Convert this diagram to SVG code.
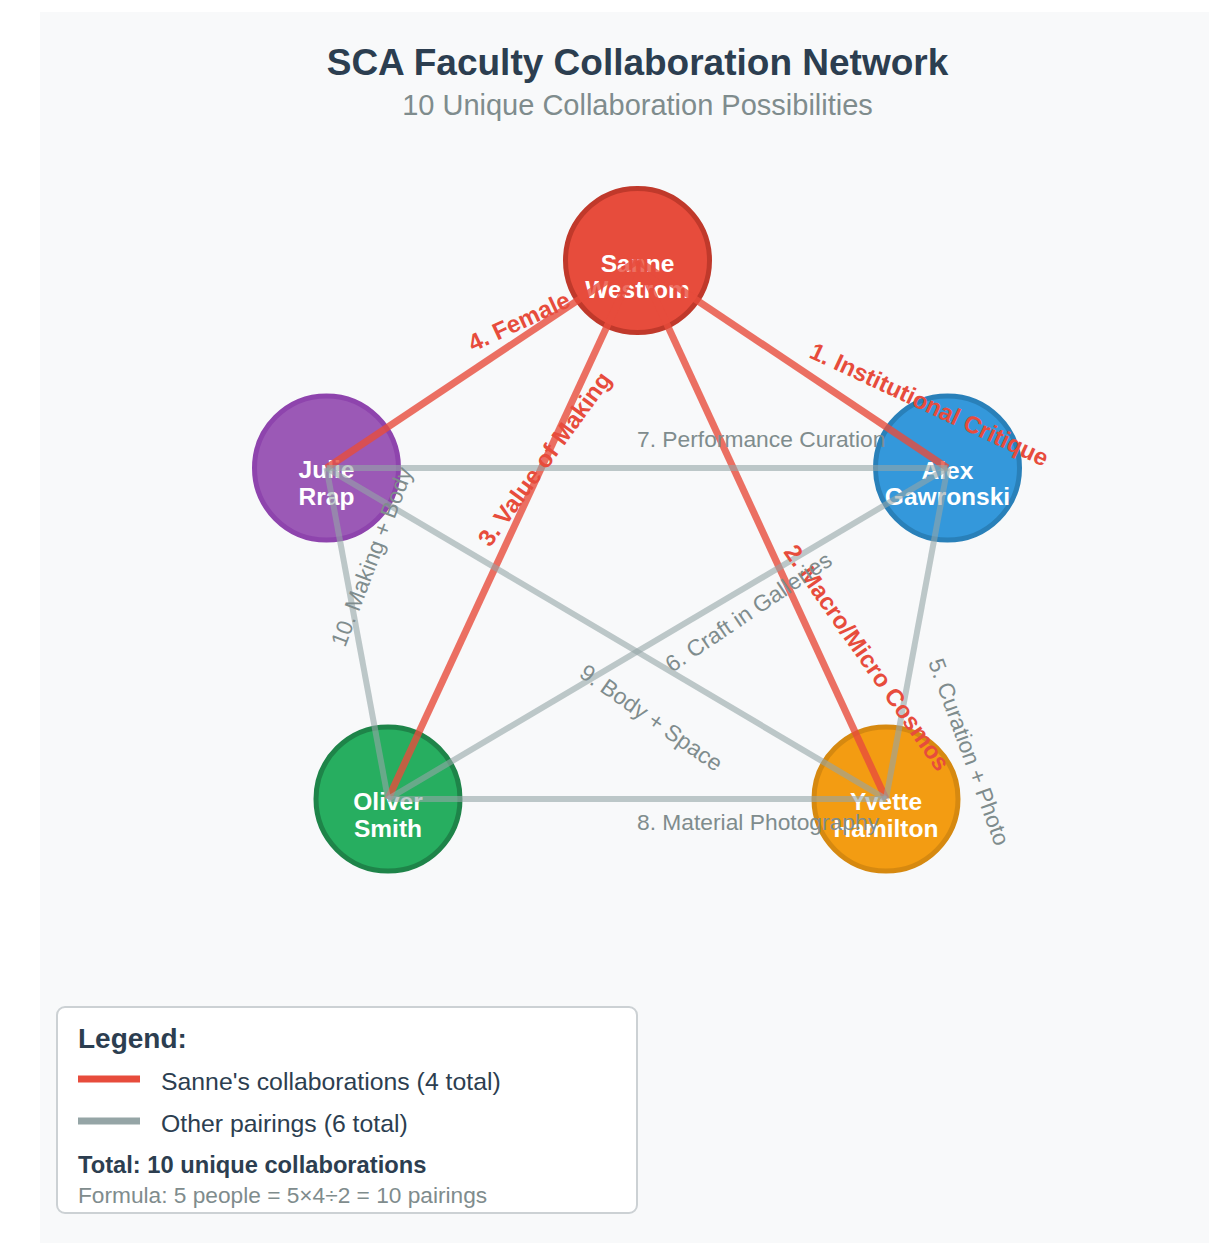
<svg xmlns="http://www.w3.org/2000/svg" width="1230" height="1246" viewBox="0 0 1230 1246">
  <style>
    .title { font-family: "Liberation Sans", Arial, sans-serif; font-weight: bold; font-size: 37px; fill: #2c3e50; }
    .subtitle { font-family: "Liberation Sans", Arial, sans-serif; font-size: 29px; fill: #7f8c8d; }
    .node-label { font-family: "Liberation Sans", Arial, sans-serif; font-weight: bold; font-size: 24.5px; fill: #ffffff; text-anchor: middle; }
    .edge-red { stroke: #e74c3c; stroke-width: 7; stroke-opacity: 0.8; fill: none; }
    .edge-gray { stroke: #95a5a6; stroke-width: 6; stroke-opacity: 0.6; fill: none; }
    .lbl-red { font-family: "Liberation Sans", Arial, sans-serif; font-weight: bold; font-size: 24px; fill: #e74c3c; }
    .lbl-gray { font-family: "Liberation Sans", Arial, sans-serif; font-size: 22.8px; fill: #7f8c8d; }
    .legend-title { font-family: "Liberation Sans", Arial, sans-serif; font-weight: bold; font-size: 28px; fill: #2c3e50; }
    .legend-text { font-family: "Liberation Sans", Arial, sans-serif; font-size: 24.8px; fill: #2c3e50; }
    .legend-total { font-family: "Liberation Sans", Arial, sans-serif; font-weight: bold; font-size: 23.7px; fill: #2c3e50; }
    .legend-formula { font-family: "Liberation Sans", Arial, sans-serif; font-size: 22.7px; fill: #7f8c8d; }
  </style>
  <rect x="0" y="0" width="1230" height="1246" fill="#ffffff"/>
  <rect x="40" y="12" width="1169" height="1231" fill="#f8f9fa"/>

  <text class="title" x="637.5" y="75" text-anchor="middle">SCA Faculty Collaboration Network</text>
  <text class="subtitle" x="637.5" y="115" text-anchor="middle">10 Unique Collaboration Possibilities</text>

  <g id="node-sanne">
    <circle cx="637.5" cy="260.5" r="72" fill="#e74c3c" stroke="#c0392b" stroke-width="5"/>
    <text class="node-label" x="637.5" y="272">Sanne</text>
    <text class="node-label" x="637.5" y="298">Westrom</text>
  </g>
  <g id="node-julie">
    <circle cx="326.5" cy="468" r="72" fill="#9b59b6" stroke="#8e44ad" stroke-width="5"/>
    <text class="node-label" x="326.5" y="478">Julie</text>
    <text class="node-label" x="326.5" y="505">Rrap</text>
  </g>
  <g id="node-alex">
    <circle cx="947.5" cy="468" r="72" fill="#3498db" stroke="#2980b9" stroke-width="5"/>
    <text class="node-label" x="947.5" y="479">Alex</text>
    <text class="node-label" x="947.5" y="505">Gawronski</text>
  </g>
  <g id="node-oliver">
    <circle cx="388" cy="799" r="72" fill="#27ae60" stroke="#1e8449" stroke-width="5"/>
    <text class="node-label" x="388" y="810">Oliver</text>
    <text class="node-label" x="388" y="837">Smith</text>
  </g>
  <g id="node-yvette">
    <circle cx="886" cy="799" r="72" fill="#f39c12" stroke="#d68910" stroke-width="5"/>
    <text class="node-label" x="886" y="810">Yvette</text>
    <text class="node-label" x="886" y="837">Hamilton</text>
  </g>

  <g id="connectors">
    <line class="edge-red" x1="637.5" y1="260.5" x2="947.5" y2="468"/>
    <line class="edge-red" x1="637.5" y1="260.5" x2="886" y2="799"/>
    <line class="edge-red" x1="637.5" y1="260.5" x2="388" y2="799"/>
    <line class="edge-red" x1="637.5" y1="260.5" x2="326.5" y2="468"/>
    <line class="edge-gray" x1="947.5" y1="468" x2="886" y2="799"/>
    <line class="edge-gray" x1="947.5" y1="468" x2="388" y2="799"/>
    <line class="edge-gray" x1="326.5" y1="468" x2="947.5" y2="468"/>
    <line class="edge-gray" x1="388" y1="799" x2="886" y2="799"/>
    <line class="edge-gray" x1="326.5" y1="468" x2="886" y2="799"/>
    <line class="edge-gray" x1="326.5" y1="468" x2="388" y2="799"/>
  </g>

  <g id="edge-labels">
    <text class="lbl-red" transform="translate(808,357) rotate(25)">1. Institutional Critique</text>
    <text class="lbl-red" transform="translate(783,552) rotate(55)">2. Macro/Micro Cosmos</text>
    <text class="lbl-red" transform="translate(490,548) rotate(-54)">3. Value of Making</text>
    <text class="lbl-red" transform="translate(473,352) rotate(-25)">4. Female</text>
    <text class="lbl-gray" transform="translate(928,662) rotate(70)">5. Curation + Photo</text>
    <text class="lbl-gray" transform="translate(672,673) rotate(-34)">6. Craft in Galleries</text>
    <text class="lbl-gray" x="637" y="447">7. Performance Curation</text>
    <text class="lbl-gray" x="637" y="830">8. Material Photography</text>
    <text class="lbl-gray" transform="translate(578,676) rotate(35)">9. Body + Space</text>
    <text class="lbl-gray" transform="translate(345,648) rotate(-69)">10. Making + Body</text>
  </g>

  <g id="legend">
    <rect x="57" y="1007" width="580" height="206" rx="8" fill="#ffffff" stroke="#ccd1d4" stroke-width="2"/>
    <text class="legend-title" x="78" y="1048">Legend:</text>
    <line x1="78" y1="1079" x2="140" y2="1079" stroke="#e74c3c" stroke-width="7"/>
    <text class="legend-text" x="161" y="1090">Sanne's collaborations (4 total)</text>
    <line x1="78" y1="1121" x2="140" y2="1121" stroke="#95a5a6" stroke-width="7"/>
    <text class="legend-text" x="161" y="1132">Other pairings (6 total)</text>
    <text class="legend-total" x="78" y="1173">Total: 10 unique collaborations</text>
    <text class="legend-formula" x="78" y="1203">Formula: 5 people = 5×4÷2 = 10 pairings</text>
  </g>
</svg>
